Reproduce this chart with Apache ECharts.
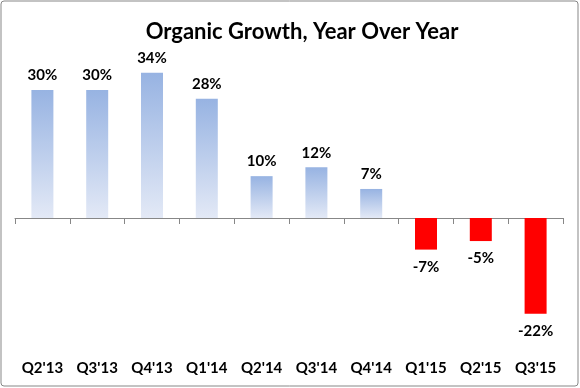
<!DOCTYPE html>
<html>
<head>
<meta charset="utf-8">
<script src="https://cdn.jsdelivr.net/npm/echarts@6/dist/echarts.min.js"></script>
<style>
html,body{margin:0;padding:0;background:#fff;}
#c{width:580px;height:388px;}
</style>
</head>
<body>
<div id="c"></div>
<script>
var categories = ["Q2'13","Q3'13","Q4'13","Q1'14","Q2'14","Q3'14","Q4'14","Q1'15","Q2'15","Q3'15"];
var growth = [30, 30, 34, 27.9, 9.8, 11.9, 6.8, -7.4, -5.4, -22.4];
var titleText = 'Organic Growth, Year Over Year';

var FONT = 'Lato';
var chart = echarts.init(document.getElementById('c'), null, {renderer: 'canvas'});

var seriesData = growth.map(function (v) {
  var pos = v >= 0;
  return {
    value: v,
    itemStyle: {
      color: pos ? new echarts.graphic.LinearGradient(0, 0, 0, 1, [
        {offset: 0, color: '#97b3e2'},
        {offset: 1, color: '#e3e9f6'}
      ]) : '#ff0000'
    },
    label: {
      position: pos ? 'top' : 'bottom',
      distance: pos ? 7 : 10
    }
  };
});

chart.setOption({
  animation: false,
  backgroundColor: '#ffffff',
  title: {
    text: titleText,
    left: 297,
    textAlign: 'center',
    top: 16,
    textStyle: {fontFamily: FONT, fontWeight: 'bold', fontSize: 22, color: '#000'}
  },
  graphic: [{
    type: 'rect',
    shape: {x: 1, y: 1, width: 577, height: 385, r: 3},
    style: {fill: 'none', stroke: '#878787', lineWidth: 1}
  }],
  grid: {left: 15, right: 17, top: 68.55, bottom: 63.25, containLabel: false},
  xAxis: [{
    type: 'category',
    data: categories,
    axisLine: {onZero: true, lineStyle: {color: '#878787', width: 1}},
    axisTick: {show: true, length: 6, inside: false, lineStyle: {color: '#878787'}},
    axisLabel: {show: false}
  }, {
    type: 'category',
    data: categories,
    position: 'bottom',
    axisLine: {show: false, onZero: false},
    axisTick: {show: false},
    axisLabel: {show: true, margin: 36, fontFamily: FONT, fontWeight: 'bold', fontSize: 15, color: '#000'}
  }],
  yAxis: {
    type: 'value',
    min: -25,
    max: 35,
    show: false,
    splitLine: {show: false}
  },
  series: [{
    type: 'bar',
    xAxisIndex: 0,
    barWidth: 22,
    data: seriesData,
    label: {
      show: true,
      fontFamily: FONT,
      fontWeight: 'bold',
      fontSize: 15,
      color: '#000',
      formatter: function (p) { return Math.round(p.value) + '%'; }
    }
  }]
});
</script>
</body>
</html>
